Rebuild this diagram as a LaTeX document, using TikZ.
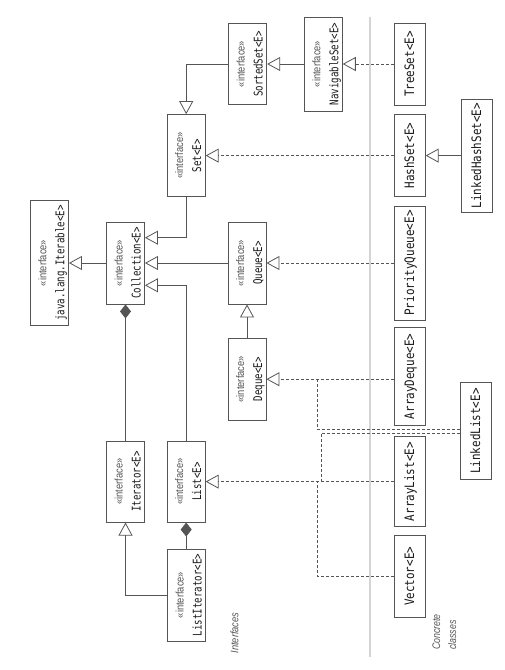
\documentclass[tikz,border=0pt]{standalone}
\usepackage{fontspec}
\usepackage{graphicx}
\usetikzlibrary{arrows.meta,calc}
\newfontfamily\monof{DejaVu Sans Mono}
\newfontfamily\sansf{Liberation Sans}
\definecolor{boxc}{HTML}{555555}
\definecolor{linec}{HTML}{555555}
\definecolor{txtc}{HTML}{1A1A1A}
\definecolor{sepc}{HTML}{D4D4D4}
\definecolor{labc}{HTML}{555555}
\newcommand\ilab{\scalebox{0.85}[1]{\color{boxc}\sansf\fontsize{11}{13}\selectfont «interface»}}
\newcommand\iname[1]{\scalebox{0.76}[1]{\monof\fontsize{12}{14}\selectfont #1}}
\newcommand\cname[1]{\scalebox{0.84}[1]{\monof\fontsize{13}{15}\selectfont #1}}
\newcommand\ifacebox[1]{\rotatebox{90}{\vbox{\baselineskip=18pt\lineskiplimit=-100pt\lineskip=0pt\vskip6pt\halign{\hfil##\hfil\cr\raisebox{0pt}[10pt][0pt]{\ilab}\cr\raisebox{0pt}[0pt][4pt]{\iname{#1}}\cr}}}}
\newcommand\concbox[1]{\rotatebox{90}{\raisebox{0pt}[10pt][1pt]{\cname{#1}}}}
\newcommand\condit[1]{\scalebox{0.8}[1]{#1}}
\begin{document}
\begin{tikzpicture}[x=1pt,y=-1pt,
  iface/.style={draw=boxc,line width=0.9pt,inner sep=0pt,minimum width=38pt,text=txtc,fill=white},
  conc/.style={draw=boxc,line width=0.9pt,inner sep=0pt,minimum width=31pt,text=txtc,fill=white},
  conn/.style={draw=linec,line width=0.8pt},
  inh/.style={conn,-{Triangle[open,length=13pt,width=14pt]}},
  real/.style={conn,dash pattern=on 3pt off 2pt},
  comp/.style={conn,{Diamond[length=14pt,width=11pt,fill=linec]}-},
  lab/.style={text=labc,inner sep=0pt}]
\useasboundingbox (0,0) rectangle (504,670);
\draw[sepc,line width=1.3pt] (370,17) -- (370,657);
% nodes
\node[iface,minimum height=125pt] (iter) at (49.5,263) {\ifacebox{java.lang.Iterable<E>}};
\node[iface,minimum height=82pt] (coll) at (125.5,263) {\ifacebox{Collection<E>}};
\node[iface,minimum height=82pt] (set) at (186.2,155.6) {\ifacebox{Set<E>}};
\node[iface,minimum height=81pt] (sorted) at (247.7,64) {\ifacebox{SortedSet<E>}};
\node[iface,minimum height=94pt] (nav) at (323.3,64) {\ifacebox{NavigableSet<E>}};
\node[conc,minimum height=82pt] (tree) at (409.7,64) {\concbox{TreeSet<E>}};
\node[conc,minimum height=82pt] (hash) at (409.7,155.6) {\concbox{HashSet<E>}};
\node[conc,minimum height=113pt] (lhash) at (476.7,155.6) {\concbox{LinkedHashSet<E>}};
\node[iface,minimum height=82pt] (queue) at (247,263) {\ifacebox{Queue<E>}};
\node[conc,minimum height=114pt] (pq) at (409.7,263) {\concbox{PriorityQueue<E>}};
\node[iface,minimum height=82pt] (deque) at (247,379.2) {\ifacebox{Deque<E>}};
\node[conc,minimum height=98pt] (adeque) at (409.7,376.4) {\concbox{ArrayDeque<E>}};
\node[conc,minimum height=97pt] (llist) at (475.5,431) {\concbox{LinkedList<E>}};
\node[conc,minimum height=90pt] (alist) at (409.7,481.6) {\concbox{ArrayList<E>}};
\node[conc,minimum height=82pt] (vector) at (409.7,576.3) {\concbox{Vector<E>}};
\node[iface,minimum height=81pt] (iterator) at (125.5,481.6) {\ifacebox{Iterator<E>}};
\node[iface,minimum height=81pt] (list) at (186.2,481.6) {\ifacebox{List<E>}};
\node[iface,minimum height=92pt] (liter) at (186.7,595) {\ifacebox{ListIterator<E>}};
\coordinate (jv) at (317,0);
\coordinate (jl) at (321,0);
% connectors
\draw[inh] (coll.west) -- (iter.east);
\draw[inh] (set.south) |- ([yshift=25.3pt]coll.east);
\draw[inh] (queue.west) -- (coll.east);
\draw[inh] (list.north) |- ([yshift=-22.3pt]coll.east);
\draw[comp] (coll.south) -- (iterator.north);
\draw[comp] (list.south) -- (list.south |- liter.north);
\draw[inh] (liter.west) -| (iterator.south);
\draw[inh] (sorted.west) -| (set.north);
\draw[inh] (nav.west) -- (sorted.east);
\draw[real,inh] (tree.west) -- (nav.east);
\draw[real,inh] (hash.west) -- (set.east);
\draw[inh] (lhash.west) -- (hash.east);
\draw[real,inh] (pq.west) -- (queue.east);
\draw[inh] (deque.north) -- (queue.south);
\draw[real,inh] (adeque.west |- deque.east) -- (deque.east);
\draw[real,inh] (alist.west) -- (list.east);
\draw[real] (vector.west) -| (jv |- list.east);
\draw[real] ([yshift=2pt]llist.west) -| (jv |- deque.east);
\draw[real] ([yshift=-2pt]llist.west) -| (jl |- list.east);
% labels
\node[lab] (lint) at (234.5,633) {\rotatebox{90}{\sansf\itshape\fontsize{11}{13}\selectfont\scalebox{0.85}[1]{Interfaces}}};
\node[lab] (lconc) at (445,632) {\rotatebox{90}{\sansf\itshape\fontsize{11}{16}\selectfont\begin{tabular}{@{}l@{}}\condit{Concrete}\\\condit{classes}\end{tabular}}};
\end{tikzpicture}
\end{document}
